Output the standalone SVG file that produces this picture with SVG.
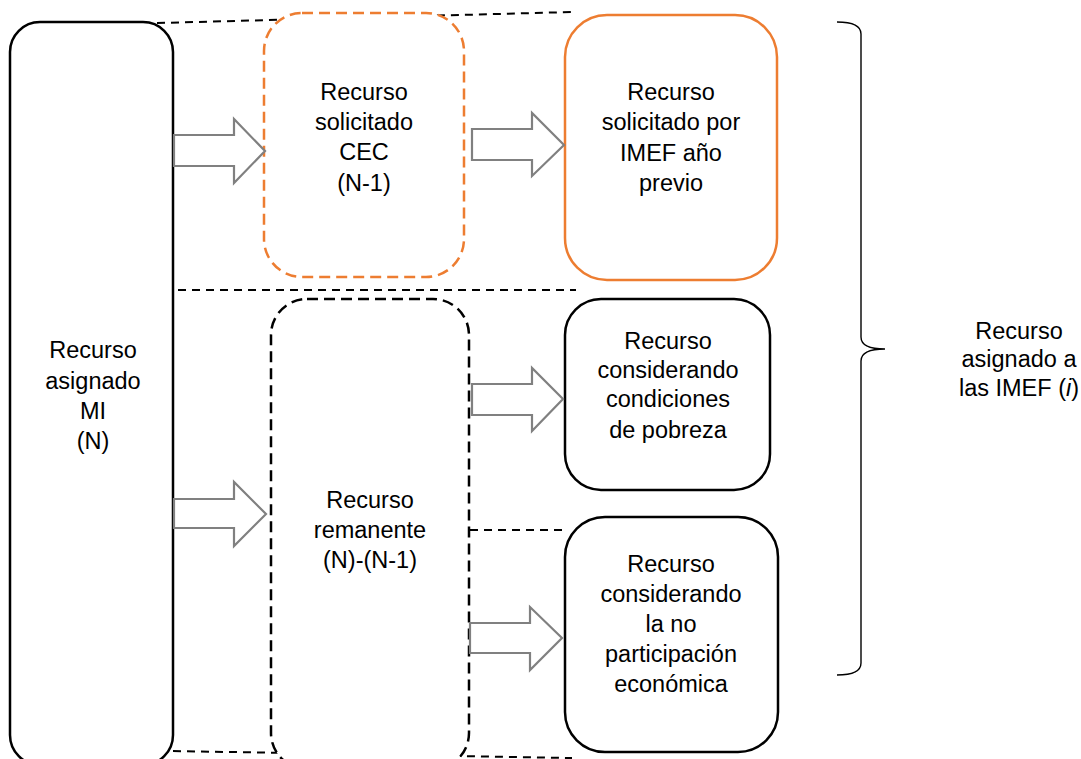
<svg xmlns="http://www.w3.org/2000/svg" width="1081" height="759" viewBox="0 0 1081 759">
<style>
.guide{fill:none;stroke:#000;stroke-width:2;stroke-dasharray:8 6}
.box{fill:#fff;stroke:#000;stroke-width:2.5}
.orange{fill:#fff;stroke:#ED7D31;stroke-width:2.5}
.odash{fill:#fff;stroke:#ED7D31;stroke-width:2.5;stroke-dasharray:11 6}
.kdash{fill:#fff;stroke:#000;stroke-width:2.5;stroke-dasharray:11 6}
.arrow{fill:#fff;stroke:#808080;stroke-width:2.2;stroke-linejoin:miter}
.brace{fill:none;stroke:#000;stroke-width:1.4}
text{font-family:"Liberation Sans",Arial,sans-serif;font-size:23.5px;fill:#000;text-anchor:middle}
</style>
<g id="connectors">
<line class="guide" x1="157" y1="23" x2="572" y2="12"/>
<line class="guide" x1="178" y1="290" x2="576" y2="290"/>
<line class="guide" x1="173" y1="751" x2="572" y2="758"/>
<line class="guide" x1="470" y1="530" x2="562" y2="530"/>
</g>
<g id="node-mi">
<rect class="box" x="10" y="22" width="163" height="743" rx="30"/>
<text x="93" y="358">Recurso</text>
<text x="93" y="389">asignado</text>
<text x="93" y="419">MI</text>
<text x="93" y="449">(N)</text>
</g>
<g id="node-cec">
<rect class="odash" x="264" y="13" width="200" height="264" rx="38"/>
<text x="364" y="100">Recurso</text>
<text x="364" y="130">solicitado</text>
<text x="364" y="160">CEC</text>
<text x="364" y="191">(N-1)</text>
</g>
<g id="node-remanente">
<rect class="kdash" x="271" y="299" width="198" height="470" rx="36"/>
<text x="370" y="508">Recurso</text>
<text x="370" y="538">remanente</text>
<text x="370" y="568">(N)-(N-1)</text>
</g>
<g id="node-imef-previo">
<rect class="orange" x="565" y="15" width="212" height="265" rx="42"/>
<text x="671" y="100">Recurso</text>
<text x="671" y="130">solicitado por</text>
<text x="671" y="161">IMEF año</text>
<text x="671" y="191">previo</text>
</g>
<g id="node-pobreza">
<rect class="box" x="565" y="299" width="205" height="191" rx="36"/>
<text x="668" y="349">Recurso</text>
<text x="668" y="378">considerando</text>
<text x="668" y="407">condiciones</text>
<text x="668" y="438">de pobreza</text>
</g>
<g id="node-participacion">
<rect class="box" x="565" y="517" width="213" height="235" rx="40"/>
<text x="671" y="572">Recurso</text>
<text x="671" y="602">considerando</text>
<text x="671" y="632">la no</text>
<text x="671" y="662">participación</text>
<text x="671" y="692">económica</text>
</g>
<g id="arrows">
<polygon class="arrow" points="174,135 234,135 234,119 265,151 234,183 234,166 174,166"/>
<polygon class="arrow" points="472,129 532,129 532,113 564,145 532,176 532,160 472,160"/>
<polygon class="arrow" points="174,499 234,499 234,482 266,514 234,546 234,528 174,528"/>
<polygon class="arrow" points="472,384 532,384 532,368 563,399 532,431 532,415 472,415"/>
<polygon class="arrow" points="470,623 530,623 530,607 562,638 530,670 530,653 470,653"/>
</g>
<g id="node-brace">
<path class="brace" d="M837,22 Q861,22 861,34 L861,337 Q861,349 885,349 Q861,349 861,361 L861,663 Q861,675 837,675"/>
<text x="1019" y="339">Recurso</text>
<text x="1019" y="367">asignado a</text>
<text x="1019" y="396">las IMEF (<tspan font-style="italic">i</tspan>)</text>
</g>
</svg>
